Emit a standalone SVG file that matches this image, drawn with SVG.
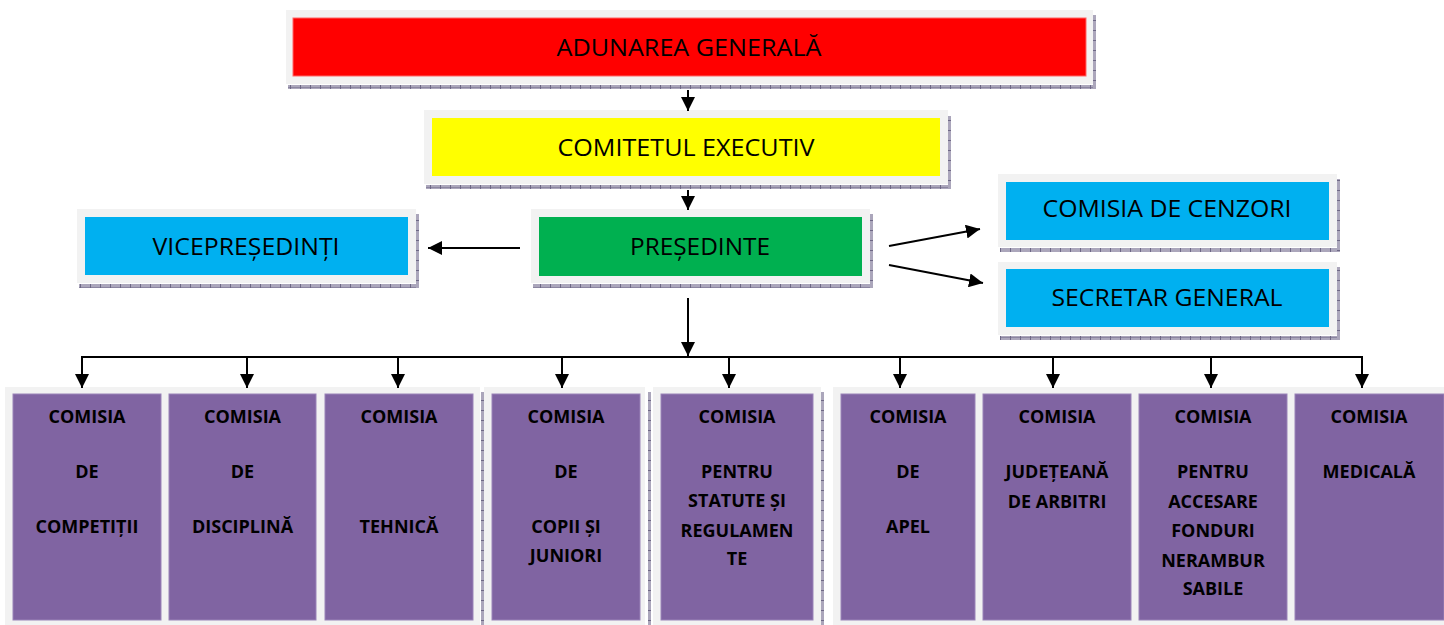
<svg xmlns="http://www.w3.org/2000/svg" width="1444" height="625" viewBox="0 0 1444 625">
  <style>
    .frame { fill: #f2f2f2; }
    .top { font-family: "Open Sans", "Liberation Sans", sans-serif; font-size: 24px; fill: #000; text-anchor: middle; }
    .com { font-family: "Open Sans", "Liberation Sans", sans-serif; font-size: 18px; font-weight: bold; fill: #000; text-anchor: middle; }
    .purple { fill: #8064a2; stroke: #9a83b8; stroke-width: 1; }
    .conn { stroke: #000; stroke-width: 2; fill: none; }
    .arr { marker-end: url(#ah); }
  </style>
  <defs>
    <pattern id="hatchH" patternUnits="userSpaceOnUse" width="10" height="5">
      <rect width="10" height="5" fill="#aba6bb"/>
      <line x1="0" y1="2.5" x2="10" y2="2.5" stroke="#8b85a0" stroke-width="1"/>
      <line x1="0.5" y1="0" x2="0.5" y2="5" stroke="#6e6886" stroke-width="1"/>
    </pattern>
    <pattern id="hatchV" patternUnits="userSpaceOnUse" width="3" height="10">
      <rect width="3" height="10" fill="#aba6bb"/>
      <line x1="0" y1="0.5" x2="3" y2="0.5" stroke="#6e6886" stroke-width="1"/>
    </pattern>
    <marker id="ah" viewBox="0 0 14 14" refX="14" refY="7" markerWidth="14" markerHeight="14" markerUnits="userSpaceOnUse" orient="auto">
      <path d="M0,0 L14,7 L0,14 z" fill="#000"/>
    </marker>
  </defs>

  <g id="adunarea-generala">
    <rect x="288" y="85" width="807" height="4" fill="url(#hatchH)"/>
    <rect x="1093" y="15" width="3" height="74" fill="url(#hatchV)"/>
    <rect class="frame" x="286" y="10" width="807" height="74"/>
    <rect x="293" y="18" width="793" height="58" fill="#ff0000" stroke="#ff6666" stroke-width="1"/>
    <text class="top" x="689" y="56" textLength="265" lengthAdjust="spacingAndGlyphs">ADUNAREA GENERALĂ</text>
  </g>

  <g id="comitetul-executiv">
    <rect x="426" y="185" width="524" height="4" fill="url(#hatchH)"/>
    <rect x="948" y="116" width="3" height="73" fill="url(#hatchV)"/>
    <rect class="frame" x="424" y="110" width="524" height="74"/>
    <rect x="432" y="118" width="508" height="58" fill="#ffff00"/>
    <text class="top" x="686" y="156" textLength="257" lengthAdjust="spacingAndGlyphs">COMITETUL EXECUTIV</text>
  </g>

  <g id="presedinte">
    <rect x="533" y="284" width="339" height="4" fill="url(#hatchH)"/>
    <rect x="870" y="214" width="3" height="74" fill="url(#hatchV)"/>
    <rect class="frame" x="531" y="209" width="339" height="74"/>
    <rect x="539" y="217" width="323" height="59" fill="#00b050"/>
    <text class="top" x="700" y="255" textLength="140" lengthAdjust="spacingAndGlyphs">PREȘEDINTE</text>
  </g>

  <g id="vicepresedinti">
    <rect x="79" y="284" width="339" height="4" fill="url(#hatchH)"/>
    <rect x="416" y="214" width="3" height="74" fill="url(#hatchV)"/>
    <rect class="frame" x="77" y="209" width="339" height="74"/>
    <rect x="85" y="217" width="323" height="58" fill="#00b0f0"/>
    <text class="top" x="246" y="255" textLength="187" lengthAdjust="spacingAndGlyphs">VICEPREȘEDINȚI</text>
  </g>

  <g id="comisia-de-cenzori">
    <rect x="1000" y="248" width="340" height="4" fill="url(#hatchH)"/>
    <rect x="1337" y="179" width="3" height="73" fill="url(#hatchV)"/>
    <rect class="frame" x="998" y="174" width="339" height="73"/>
    <rect x="1006" y="182" width="323" height="58" fill="#00b0f0"/>
    <text class="top" x="1167" y="217" textLength="249" lengthAdjust="spacingAndGlyphs">COMISIA DE CENZORI</text>
  </g>

  <g id="secretar-general">
    <rect x="1000" y="336" width="340" height="4" fill="url(#hatchH)"/>
    <rect x="1337" y="267" width="3" height="73" fill="url(#hatchV)"/>
    <rect class="frame" x="998" y="262" width="339" height="73"/>
    <rect x="1006" y="269" width="323" height="58" fill="#00b0f0"/>
    <text class="top" x="1167" y="306" textLength="231" lengthAdjust="spacingAndGlyphs">SECRETAR GENERAL</text>
  </g>

  <g id="commission-frames">
    <rect x="481" y="392" width="3" height="233" fill="url(#hatchV)"/>
    <rect x="648" y="392" width="3" height="233" fill="url(#hatchV)"/>
    <rect x="821" y="392" width="3" height="233" fill="url(#hatchV)"/>
    <rect class="frame" x="5" y="387" width="475" height="238"/>
    <rect class="frame" x="484" y="387" width="161" height="238"/>
    <rect class="frame" x="653" y="387" width="168" height="238"/>
    <rect class="frame" x="833" y="387" width="611" height="238"/>
  </g>

  <g id="comisia-competitii">
    <rect class="purple" x="13" y="394" width="148" height="226"/>
    <text class="com" x="87" y="423">COMISIA</text>
    <text class="com" x="87" y="478">DE</text>
    <text class="com" x="87" y="533">COMPETIȚII</text>
  </g>

  <g id="comisia-disciplina">
    <rect class="purple" x="169" y="394" width="147" height="226"/>
    <text class="com" x="242.5" y="423">COMISIA</text>
    <text class="com" x="242.5" y="478">DE</text>
    <text class="com" x="242.5" y="533">DISCIPLINĂ</text>
  </g>

  <g id="comisia-tehnica">
    <rect class="purple" x="325" y="394" width="148" height="226"/>
    <text class="com" x="399" y="423">COMISIA</text>
    <text class="com" x="399" y="533">TEHNICĂ</text>
  </g>

  <g id="comisia-copii-juniori">
    <rect class="purple" x="492" y="394" width="148" height="226"/>
    <text class="com" x="566" y="423">COMISIA</text>
    <text class="com" x="566" y="478">DE</text>
    <text class="com" x="566" y="533">COPII ȘI</text>
    <text class="com" x="566" y="562">JUNIORI</text>
  </g>

  <g id="comisia-statute-regulamente">
    <rect class="purple" x="661" y="394" width="152" height="226"/>
    <text class="com" x="737" y="423">COMISIA</text>
    <text class="com" x="737" y="478">PENTRU</text>
    <text class="com" x="737" y="507">STATUTE ȘI</text>
    <text class="com" x="737" y="537">REGULAMEN</text>
    <text class="com" x="737" y="565">TE</text>
  </g>

  <g id="comisia-apel">
    <rect class="purple" x="841" y="394" width="134" height="226"/>
    <text class="com" x="908" y="423">COMISIA</text>
    <text class="com" x="908" y="478">DE</text>
    <text class="com" x="908" y="533">APEL</text>
  </g>

  <g id="comisia-arbitri">
    <rect class="purple" x="983" y="394" width="148" height="226"/>
    <text class="com" x="1057" y="423">COMISIA</text>
    <text class="com" x="1057" y="478">JUDEȚEANĂ</text>
    <text class="com" x="1057" y="508">DE ARBITRI</text>
  </g>

  <g id="comisia-fonduri">
    <rect class="purple" x="1139" y="394" width="148" height="226"/>
    <text class="com" x="1213" y="423">COMISIA</text>
    <text class="com" x="1213" y="478">PENTRU</text>
    <text class="com" x="1213" y="508">ACCESARE</text>
    <text class="com" x="1213" y="537">FONDURI</text>
    <text class="com" x="1213" y="567">NERAMBUR</text>
    <text class="com" x="1213" y="595">SABILE</text>
  </g>

  <g id="comisia-medicala">
    <rect class="purple" x="1295" y="394" width="149" height="226"/>
    <text class="com" x="1369" y="423">COMISIA</text>
    <text class="com" x="1369" y="478">MEDICALĂ</text>
  </g>

  <g id="connectors">
    <line class="conn arr" x1="688" y1="90" x2="688" y2="111"/>
    <line class="conn arr" x1="688" y1="190" x2="688" y2="210"/>
    <line class="conn arr" x1="520" y1="248" x2="428" y2="248"/>
    <line class="conn arr" x1="889" y1="246" x2="980" y2="229"/>
    <line class="conn arr" x1="889" y1="265" x2="983" y2="283"/>
    <line class="conn arr" x1="688" y1="298" x2="688" y2="356"/>
    <line class="conn" x1="81" y1="357" x2="1363" y2="357"/>
    <line class="conn arr" x1="82" y1="356" x2="82" y2="388"/>
    <line class="conn arr" x1="247" y1="357" x2="247" y2="388"/>
    <line class="conn arr" x1="398" y1="357" x2="398" y2="388"/>
    <line class="conn arr" x1="562" y1="357" x2="562" y2="388"/>
    <line class="conn arr" x1="729" y1="357" x2="729" y2="388"/>
    <line class="conn arr" x1="900" y1="357" x2="900" y2="388"/>
    <line class="conn arr" x1="1053" y1="357" x2="1053" y2="388"/>
    <line class="conn arr" x1="1211" y1="357" x2="1211" y2="388"/>
    <line class="conn arr" x1="1362" y1="356" x2="1362" y2="388"/>
  </g>
</svg>
